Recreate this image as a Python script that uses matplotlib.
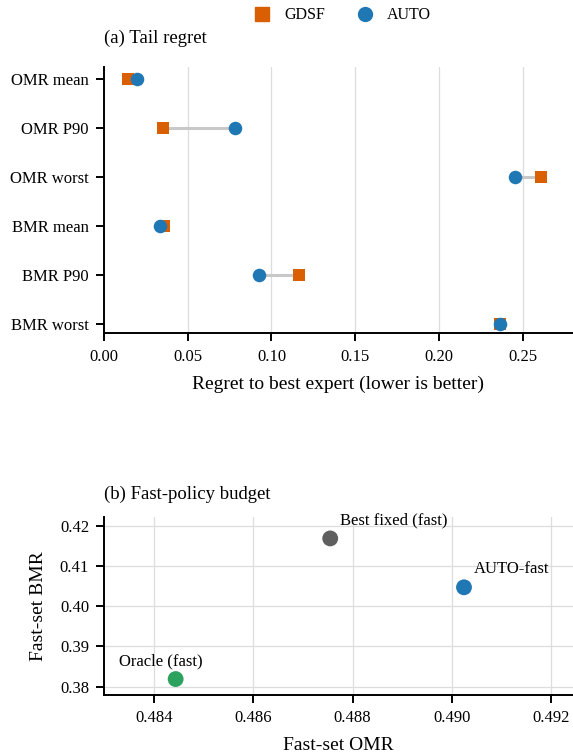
import matplotlib
matplotlib.use("Agg")
import matplotlib.pyplot as plt
from matplotlib.lines import Line2D

plt.rcParams["font.family"] = ["Liberation Serif", "DejaVu Serif"]

# (a) tail regret data
metrics = ["OMR mean", "OMR P90", "OMR worst", "BMR mean", "BMR P90", "BMR worst"]
gdsf_regret = [0.0141, 0.0353, 0.2611, 0.0359, 0.1167, 0.2362]
auto_regret = [0.0200, 0.0785, 0.2454, 0.0333, 0.0926, 0.2367]

# (b) fast-policy budget data
policy_names = ["Best fixed (fast)", "AUTO-fast", "Oracle (fast)"]
fast_omr = [0.48755, 0.49025, 0.48443]
fast_bmr = [0.41694, 0.40475, 0.38187]

ORANGE = "#d95f02"
BLUE = "#1f77b4"
point_colors = ["#5f5f5f", BLUE, "#2ca25f"]
label_offsets = [(7, 10), (7, 10), (-41, 10)]

fig = plt.figure(figsize=(5.73, 7.55), dpi=100)
ax1 = fig.add_axes([0.1815, 0.5585, 0.8185, 0.3532])
ax2 = fig.add_axes([0.182, 0.0795, 0.818, 0.2353])

for ax in (ax1, ax2):
    for side in ("top", "right"):
        ax.spines[side].set_visible(False)
    for side in ("left", "bottom"):
        ax.spines[side].set_linewidth(1.4)
    ax.tick_params(width=1.4, length=6, pad=5, labelsize=12, direction="out")
    ax.set_axisbelow(True)

# --- top panel: dumbbell ---
ypos = list(range(len(metrics)))
for y, g, a in zip(ypos, gdsf_regret, auto_regret):
    ax1.plot([g, a], [y, y], color="#c8c8c8", lw=2.2, zorder=1)
ax1.scatter(gdsf_regret, ypos, marker="s", s=85, color=ORANGE, zorder=3,
            linewidths=0)
ax1.scatter(auto_regret, ypos, marker="o", s=95, color=BLUE, zorder=4,
            linewidths=0)
ax1.set_yticks(ypos)
ax1.set_yticklabels(metrics)
ax1.set_ylim(5.2, -0.25)
ax1.set_xlim(0, 0.28)
ax1.set_xticks([0, 0.05, 0.10, 0.15, 0.20, 0.25])
ax1.set_xticklabels(["0.00", "0.05", "0.10", "0.15", "0.20", "0.25"])
ax1.grid(axis="x", color="#dddddd", lw=0.9)
ax1.set_xlabel("Regret to best expert (lower is better)", fontsize=14,
               labelpad=8)
ax1.set_title("(a) Tail regret", loc="left", fontsize=13.5, pad=17)

handles = [Line2D([], [], marker="s", ls="", color=ORANGE, markersize=9.5),
           Line2D([], [], marker="o", ls="", color=BLUE, markersize=10)]
ax1.legend(handles, ["GDSF", "AUTO"], ncol=2, frameon=False, fontsize=11.5,
           loc="lower center", bbox_to_anchor=(0.5, 1.108), handletextpad=0.4,
           columnspacing=1.5)

# --- bottom panel: scatter ---
ax2.scatter(fast_omr, fast_bmr, s=130, c=point_colors, zorder=3, linewidths=0)
for name, x, y, off in zip(policy_names, fast_omr, fast_bmr, label_offsets):
    ax2.annotate(name, (x, y), xytext=off, textcoords="offset points",
                 fontsize=12, ha="left", va="baseline")
ax2.set_xlim(0.48299, 0.49245)
ax2.set_ylim(0.3779, 0.4222)
ax2.set_xticks([0.484, 0.486, 0.488, 0.490, 0.492])
ax2.set_xticklabels(["0.484", "0.486", "0.488", "0.490", "0.492"])
ax2.set_yticks([0.38, 0.39, 0.40, 0.41, 0.42])
ax2.set_yticklabels(["0.38", "0.39", "0.40", "0.41", "0.42"])
ax2.grid(color="#dddddd", lw=0.9)
ax2.set_xlabel("Fast-set OMR", fontsize=14, labelpad=8)
ax2.set_ylabel("Fast-set BMR", fontsize=14, labelpad=9)
ax2.set_title("(b) Fast-policy budget", loc="left", fontsize=13.5, pad=13)

fig.savefig("out.png", dpi=100)
